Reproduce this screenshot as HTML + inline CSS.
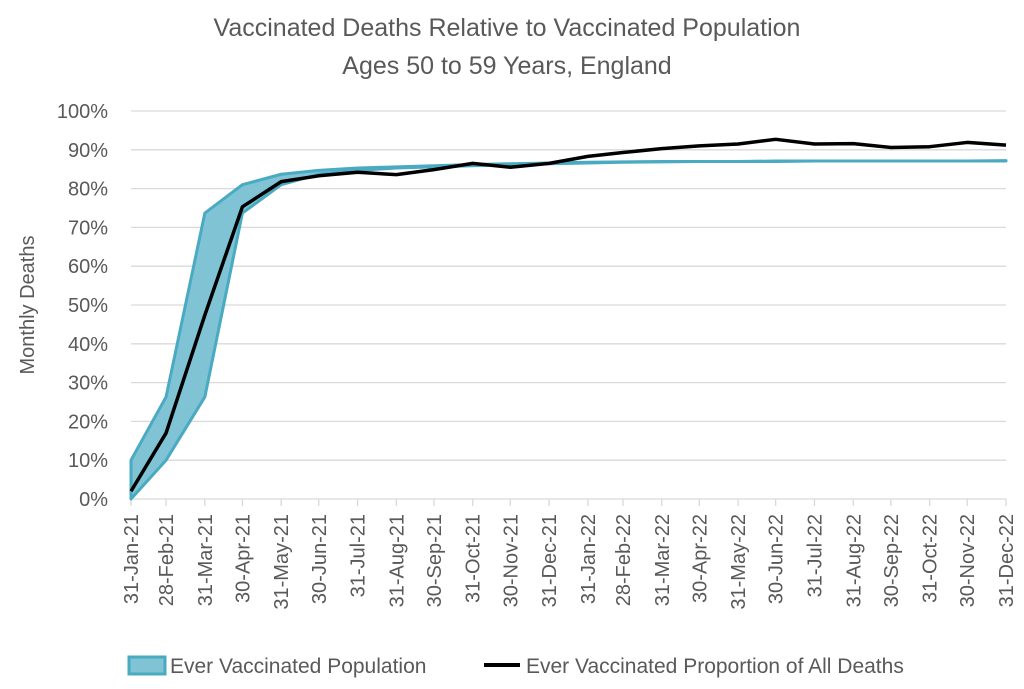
<!DOCTYPE html>
<html><head><meta charset="utf-8"><style>
body{margin:0;background:#fff}
svg{display:block;font-family:"Liberation Sans",sans-serif}
</style></head><body>
<svg id="c" width="1024" height="689" viewBox="0 0 1024 689">
<text x="507" y="36" text-anchor="middle" font-size="25" fill="#595959">Vaccinated Deaths Relative to Vaccinated Population</text>
<text x="507" y="74" text-anchor="middle" font-size="25" fill="#595959">Ages 50 to 59 Years, England</text>
<text transform="translate(34,305) rotate(-90)" text-anchor="middle" font-size="20" fill="#595959">Monthly Deaths</text>
<g id="grid"></g>
<g id="xt"></g>
<g id="yt"></g>
<g id="plot"></g>
<g>
<g>
<rect x="129" y="657" width="36" height="17" fill="#7fc3d4" stroke="#4aaac2" stroke-width="3"/>
<text x="170" y="673" font-size="21" fill="#595959">Ever Vaccinated Population</text></g>
<g>
<line x1="484" y1="665" x2="520" y2="665" stroke="#000" stroke-width="4"/>
<text x="526" y="673" font-size="21" fill="#595959">Ever Vaccinated Proportion of All Deaths</text></g>
</g>
</svg>
<script>
const dates=["31-Jan-21","28-Feb-21","31-Mar-21","30-Apr-21","31-May-21","30-Jun-21","31-Jul-21","31-Aug-21","30-Sep-21","31-Oct-21","30-Nov-21","31-Dec-21","31-Jan-22","28-Feb-22","31-Mar-22","30-Apr-22","31-May-22","30-Jun-22","31-Jul-22","31-Aug-22","30-Sep-22","31-Oct-22","30-Nov-22","31-Dec-22"];
const bandUpper=[10,26.3,73.7,81,83.7,84.7,85.3,85.6,85.9,86.2,86.4,86.6,86.8,86.9,87,87,87,87.1,87.1,87.1,87.1,87.1,87.1,87.2];
const bandLower=[0,10,26.3,73.7,81,83.7,84.7,85.3,85.6,85.9,86.2,86.4,86.6,86.8,86.9,87,87,87,87.1,87.1,87.1,87.1,87.1,87.1];
const deaths=[2,17,47.4,75.3,81.8,83.3,84.2,83.6,84.9,86.5,85.5,86.5,88.3,89.3,90.3,91,91.5,92.7,91.5,91.6,90.6,90.8,91.9,91.2];
const yTicks=[0,10,20,30,40,50,60,70,80,90,100];
const NS="http://www.w3.org/2000/svg";
const M={Jan:0,Feb:1,Mar:2,Apr:3,May:4,Jun:5,Jul:6,Aug:7,Sep:8,Oct:9,Nov:10,Dec:11};
function dn(s){const p=s.split('-');return Date.UTC(2000+ +p[2],M[p[1]],+p[0])/864e5;}
const d0=dn(dates[0]),d1=dn(dates[dates.length-1]);
const X0=131,X1=1006,Y0=499,Y1=111;
const xs=s=>X0+(dn(s)-d0)/(d1-d0)*(X1-X0);
const ys=v=>Y0-v/100*(Y0-Y1);
function mk(t,a,p){const e=document.createElementNS(NS,t);for(const k in a)e.setAttribute(k,a[k]);p.appendChild(e);return e;}
const grid=document.getElementById('grid'),yt=document.getElementById('yt'),xt=document.getElementById('xt'),plot=document.getElementById('plot');
yTicks.forEach(v=>{
  const l=mk('line',{x1:X0,x2:X1,y1:ys(v),y2:ys(v),stroke:'#d9d9d9','stroke-width':1.3},grid);
  
  
  const t=mk('text',{x:108,y:ys(v)+7,'text-anchor':'end','font-size':20,fill:'#595959'},yt);
  t.textContent=v+'%';
  
  
});
dates.forEach(d=>{
  const x=xs(d);
  const tk=mk('line',{x1:x,x2:x,y1:Y0,y2:Y0+7,stroke:'#d9d9d9','stroke-width':1.3},xt);
  
  
  const t=mk('text',{transform:`translate(${x+7},${514}) rotate(-90)`,'text-anchor':'end','font-size':20,fill:'#595959'},xt);
  t.textContent=d;
  
  
});
let pts=dates.map((d,i)=>xs(d)+','+ys(bandUpper[i]));
let lpts=dates.map((d,i)=>xs(d)+','+ys(bandLower[i])).reverse();
const band=mk('polygon',{points:pts.concat(lpts).join(' '),fill:'#7fc3d4',stroke:'#4aaac2','stroke-width':3,'stroke-linejoin':'round'},plot);


const ln=mk('polyline',{points:dates.map((d,i)=>xs(d)+','+ys(deaths[i])).join(' '),fill:'none',stroke:'#000','stroke-width':3.5,'stroke-linejoin':'round'},plot);


</script>
</body></html>
